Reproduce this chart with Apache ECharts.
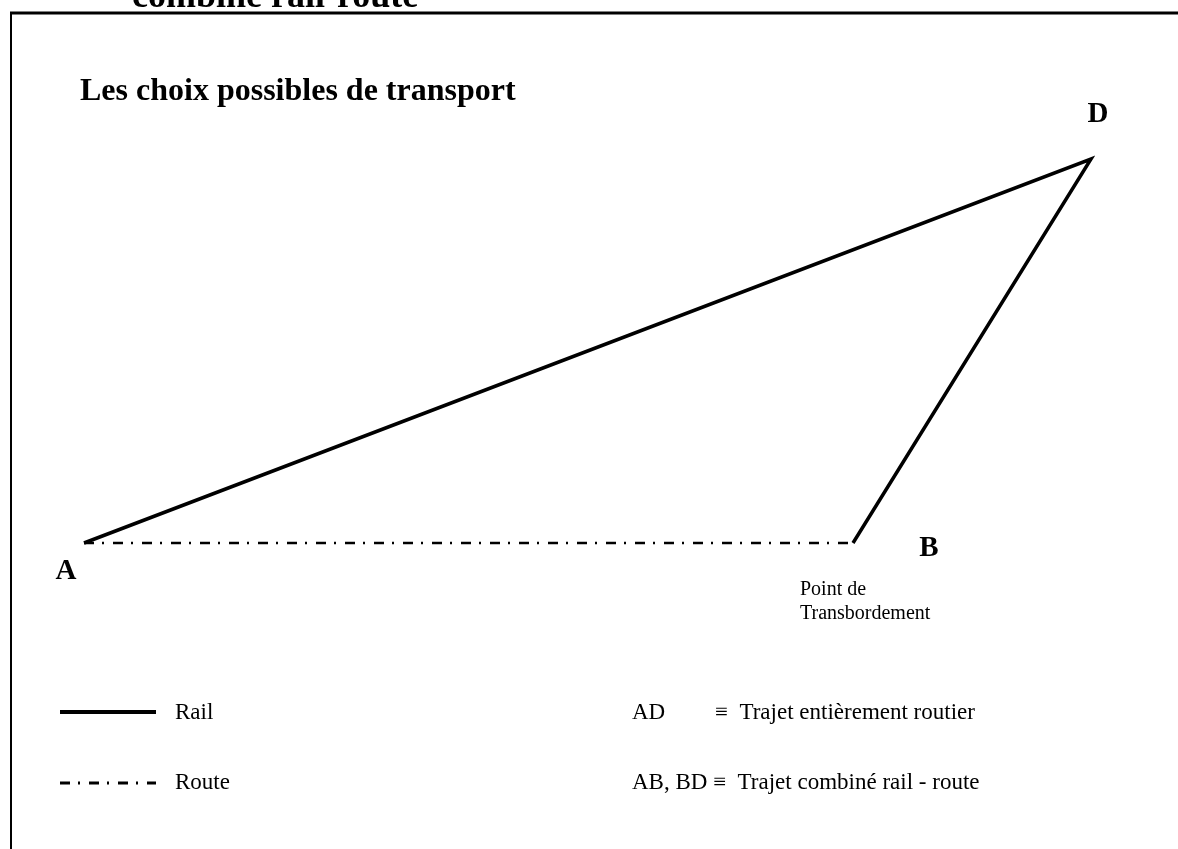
<!DOCTYPE html>
<html>
<head>
<meta charset="utf-8">
<script src="https://cdn.jsdelivr.net/npm/echarts@6/dist/echarts.min.js"></script>
<style>
html,body{margin:0;padding:0;background:#fff;}
#chart{width:1178px;height:849px;}
</style>
</head>
<body>
<div id="chart"></div>
<script>
// ---- data ----
const pointNames = ['A', 'B', 'D'];
const pointX = [84, 853, 1091];
const pointY = [543, 543, 159];
const railPath = ['A', 'D', 'B'];
const routePath = ['A', 'B'];
const seriesNames = ['Rail', 'Route'];
const headerText = 'combiné rail-route';
const titleText = 'Les choix possibles de transport';
const pointNoteLines = ['Point de', 'Transbordement'];
const keyCodes = ['AD', 'AB, BD'];
const keyMeanings = ['Trajet entièrement routier', 'Trajet combiné rail - route'];

// ---- helpers ----
function coord(name) {
  const i = pointNames.indexOf(name);
  return [pointX[i], pointY[i]];
}
const FONT = "'Liberation Serif', 'Times New Roman', serif";
const labelOffsets = { A: [-18, 29], B: [76, 6], D: [7, -44] };
const RAIL_STYLE = { stroke: '#000', lineWidth: 3.5 };
const ROUTE_DASH = [10, 8, 2, 9];

const chart = echarts.init(document.getElementById('chart'), null, { renderer: 'canvas' });

function txt(x, y, text, font) {
  return { type: 'text', x: x, y: y, silent: true,
    style: { text: text, font: font, fill: '#000', align: 'left', verticalAlign: 'middle' } };
}

const option = {
  animation: false,
  backgroundColor: '#ffffff',
  grid: { left: 0, right: 0, top: 0, bottom: 0 },
  xAxis: { type: 'value', min: 0, max: 1178, show: false },
  yAxis: { type: 'value', min: 0, max: 849, inverse: true, show: false },
  series: [
    {
      name: seriesNames[0],
      type: 'line',
      symbol: 'none',
      data: railPath.map(coord),
      lineStyle: { color: '#000', width: 3.5, type: 'solid', join: 'miter', cap: 'butt' },
      itemStyle: { color: '#000' },
      silent: true
    },
    {
      name: seriesNames[1],
      type: 'line',
      symbol: 'none',
      data: routePath.map(coord),
      lineStyle: { color: '#000', width: 2.5, type: ROUTE_DASH, cap: 'butt' },
      itemStyle: { color: '#000' },
      silent: true
    },
    {
      type: 'scatter',
      symbolSize: 0,
      silent: true,
      itemStyle: { color: '#000' },
      data: pointNames.map((n, i) => ({
        name: n,
        value: [pointX[i], pointY[i]],
        label: {
          show: true,
          formatter: '{b}',
          position: 'inside',
          offset: labelOffsets[n],
          fontFamily: FONT,
          fontSize: 29,
          fontWeight: 'bold',
          color: '#000',
          opacity: 1,
          textBorderWidth: 0
        }
      }))
    }
  ],
  graphic: [
    // frame
    { type: 'line', silent: true, shape: { x1: 10, y1: 13, x2: 1178, y2: 13 }, style: { stroke: '#000', lineWidth: 3 } },
    { type: 'line', silent: true, shape: { x1: 11, y1: 12, x2: 11, y2: 849 }, style: { stroke: '#000', lineWidth: 2 } },
    // clipped header
    txt(132, -2, headerText, "bold 36px " + FONT),
    // title
    txt(80, 92, titleText, "bold 32px " + FONT),
    // transfer point note
    txt(800, 590, pointNoteLines[0], "20px " + FONT),
    txt(800, 614, pointNoteLines[1], "20px " + FONT),
    // legend (left)
    { type: 'line', silent: true, shape: { x1: 60, y1: 712, x2: 156, y2: 712 }, style: Object.assign({}, RAIL_STYLE, { lineWidth: 4 }) },
    txt(175, 713, seriesNames[0], "23px " + FONT),
    { type: 'line', silent: true, shape: { x1: 60, y1: 783, x2: 156, y2: 783 }, style: { stroke: '#000', lineWidth: 3, lineDash: ROUTE_DASH } },
    txt(175, 783, seriesNames[1], "23px " + FONT),
    // key (right)
    txt(632, 713, keyCodes[0], "23px " + FONT),
    txt(715, 713, '≡  ' + keyMeanings[0], "23px " + FONT),
    txt(632, 783, keyCodes[1] + ' ≡  ' + keyMeanings[1], "23px " + FONT)
  ]
};
chart.setOption(option);
</script>
</body>
</html>
